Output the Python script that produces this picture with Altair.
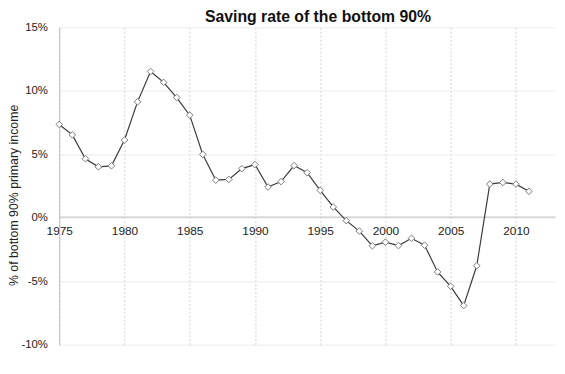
import altair as alt
import pandas as pd

years = list(range(1975, 2012))
saving = [7.35, 6.53, 4.65, 4.01, 4.09, 6.12, 9.13, 11.52, 10.67, 9.47,
          8.08, 4.99, 2.96, 3.02, 3.87, 4.19, 2.42, 2.85, 4.11, 3.55,
          2.16, 0.85, -0.23, -1.05, -2.21, -1.92, -2.19, -1.62, -2.16, -4.27,
          -5.40, -6.92, -3.78, 2.65, 2.78, 2.65, 2.08]

x_ticks = [1975, 1980, 1985, 1990, 1995, 2000, 2005, 2010]
y_ticks = [-10, -5, 0, 5, 10, 15]

df = pd.DataFrame({"year": years, "rate": saving})

FONT = "Liberation Sans"

base = alt.Chart(df)

line = base.mark_line(color="#3a3a3a", strokeWidth=1.2).encode(
    x=alt.X("year:Q",
            scale=alt.Scale(domain=[1975, 2013], nice=False, zero=False),
            axis=alt.Axis(values=x_ticks, format="d", title=None,
                          orient="bottom", offset=-130, ticks=False,
                          labelPadding=9, labelFontSize=12, labelColor="#222",
                          labelFont=FONT, domainColor="#bdbdbd",
                          grid=True, gridColor="#cfcfcf", gridDash=[2, 2],
                          gridWidth=1, labelFlush=False)),
    y=alt.Y("rate:Q",
            scale=alt.Scale(domain=[-10, 15], nice=False),
            axis=alt.Axis(values=y_ticks, labelExpr="datum.value + '%'",
                          title="% of bottom 90% primary income",
                          titleFont=FONT, titleFontSize=12.5, titleFontWeight="normal",
                          titleColor="#222", titleX=-46, titleY=170,
                          titleAngle=-90, titleBaseline="middle", titleAlign="center",
                          ticks=False, labelPadding=12, labelFontSize=11.5,
                          labelColor="#222", labelFont=FONT,
                          domainColor="#bdbdbd", grid=True,
                          gridColor="#ebebeb", gridWidth=1)),
)

points = base.mark_point(shape="diamond", filled=True, fill="white",
                         stroke="#7a7a7a", strokeWidth=1, size=45, opacity=1).encode(
    x="year:Q", y="rate:Q")

chart = alt.layer(line, points).properties(
    width=503, height=322,
    title=alt.TitleParams("Saving rate of the bottom 90%", font=FONT, fontSize=16,
                          fontWeight="bold", color="#111", anchor="middle",
                          offset=5, dx=11, dy=9),
    autosize=alt.AutoSizeParams(type="none"),
    padding={"left": 52, "top": 17, "right": 2, "bottom": 20},
).configure_view(stroke=None)

chart.save("out.html", embed_options={"renderer": "svg", "actions": False})
